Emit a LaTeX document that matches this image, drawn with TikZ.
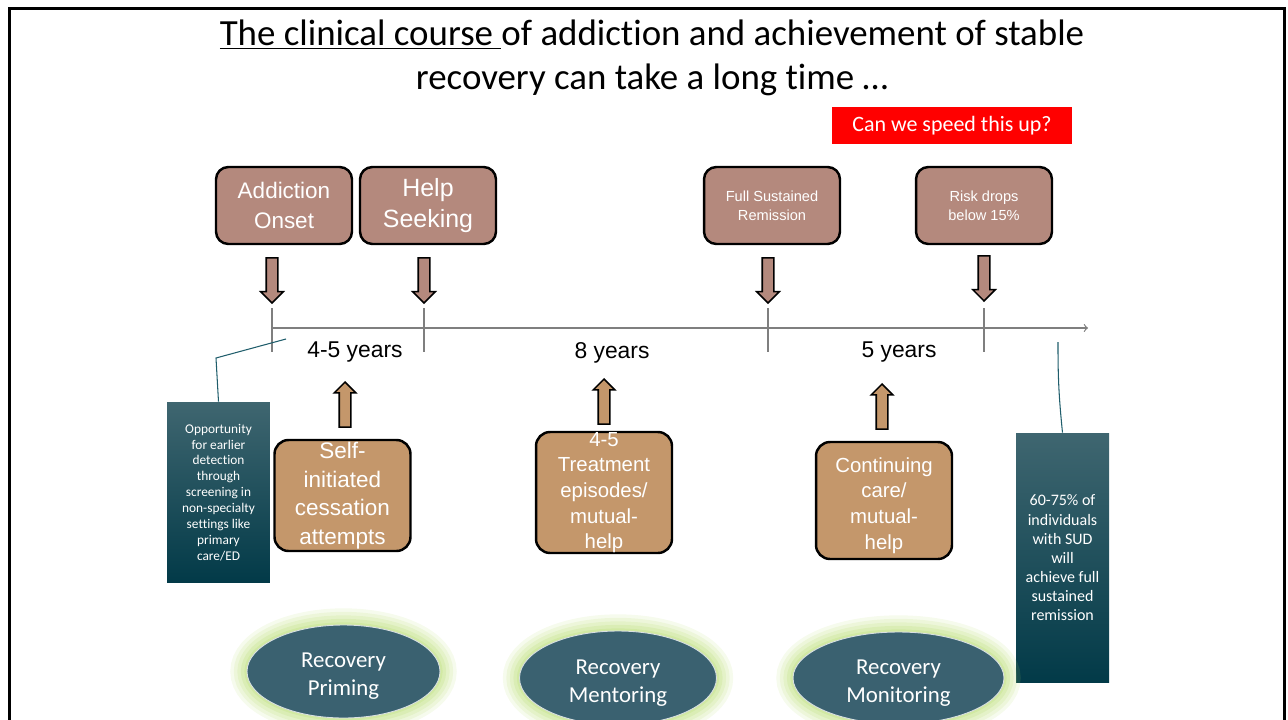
\documentclass[tikz,border=0pt]{standalone}
\usepackage{fontspec}
\setmainfont[Ligatures=NoCommon]{Carlito}
\newfontfamily\calfont[Ligatures=NoCommon]{Carlito}
\newfontfamily\arialfont{Liberation Sans}
\usetikzlibrary{shapes.geometric,shapes.arrows}
\definecolor{boxbrown}{HTML}{B4897D}
\definecolor{boxtan}{HTML}{C4976B}
\definecolor{tealtop}{HTML}{3F6670}
\definecolor{tealbot}{HTML}{023A48}
\definecolor{ovalteal}{HTML}{3A6170}
\definecolor{glowgreen}{HTML}{B5DB6A}
\definecolor{linkteal}{HTML}{1F5D6B}
\definecolor{axisgray}{HTML}{7F7F7F}

\begin{document}
\begin{tikzpicture}[x=0.02cm,y=-0.02cm]
        \tikzstyle{every node}=[font=\arialfont, text=white, inner sep=0pt]
        \tikzstyle{topbox}=[draw=black, line width=1.4pt, fill=boxbrown, rounded corners=7pt, minimum width=2.72cm, minimum height=1.54cm, align=center]
        \tikzstyle{tanbox}=[draw=black, line width=1.4pt, fill=boxtan, rounded corners=8pt, minimum width=2.72cm]
        \tikzstyle{boxtext}=[align=center, text=white]
        \tikzstyle{downarrow}=[single arrow, draw=black, line width=0.9pt, fill=boxbrown, shape border rotate=270, inner sep=0.1cm, single arrow head extend=0.11cm, minimum height=0.9cm]
        \tikzstyle{uparrow}=[single arrow, draw=black, line width=0.9pt, fill=boxtan, shape border rotate=90, inner sep=0.1cm, single arrow head extend=0.1cm, minimum height=0.9cm]
        \tikzstyle{yearlabel}=[text=black, font=\arialfont\fontsize{13}{15}\selectfont]
        \tikzstyle{tealbox}=[top color=tealtop, bottom color=tealbot, align=center]
        \tikzstyle{linkline}=[draw=linkteal, line width=0.6pt]
        \tikzstyle{ovaltext}=[align=center, text=white, yshift=-0.1cm, font=\calfont\fontsize{13}{15.9}\selectfont]
        \tikzstyle{oval}=[ellipse, fill=ovalteal, draw=white!80!ovalteal, line width=0.5pt,
            preaction={draw=glowgreen, line width=19pt, opacity=0.12},
            preaction={draw=glowgreen, line width=15pt, opacity=0.14},
            preaction={draw=glowgreen, line width=11pt, opacity=0.16},
            preaction={draw=glowgreen, line width=7pt, opacity=0.2},
            preaction={draw=glowgreen, line width=3pt, opacity=0.25}]

        \useasboundingbox (0,0) rectangle (1288,720);
        \clip (0,0) rectangle (1288,720);
        \draw [line width=1.7pt] (9.5,8.5) rectangle (1284.5,760);

        % title and question
        \node (title) at (652,58) [text=black, align=center, font=\calfont\fontsize{21}{25}\selectfont] {\underline{The clinical course\ }of addiction and achievement of stable\\recovery can take a long time …};
        \node (speedup) at (952,125.5) [fill=red, minimum width=4.8cm, minimum height=0.74cm, font=\calfont\fontsize{12.5}{14}\selectfont] {Can we speed this up?};

        % milestones
        \node (onset) at (284,205.5) [topbox, font=\arialfont\fontsize{12.8}{17}\selectfont] {Addiction\\Onset};
        \node (seeking) at (428,205.5) [topbox, font=\arialfont\fontsize{14.2}{17.6}\selectfont] {Help\\Seeking};
        \node (remission) at (772,205.5) [topbox, font=\arialfont\fontsize{8.3}{10.8}\selectfont] {Full Sustained\\Remission};
        \node (riskdrop) at (984,205.5) [topbox, font=\arialfont\fontsize{8.3}{10.8}\selectfont] {Risk drops\\below 15\%};

        \node (down1) at (272,277.5) [downarrow] {};
        \node (down2) at (424,277.5) [downarrow] {};
        \node (down3) at (768,277.5) [downarrow] {};
        \node (down4) at (984,275.5) [downarrow] {};

        % time line
        \coordinate (tstart) at (272,328);
        \coordinate (tend) at (1088,328);
        \draw [-to, axisgray, line width=0.7pt] (tstart) -- (tend);
        \foreach \x in {272,424,768,984}
            \draw [axisgray, line width=0.7pt] (\x,308) -- (\x,352);

        \node (years1) at (355,352) [yearlabel] {4-5 years};
        \node (years2) at (612,353) [yearlabel] {8 years};
        \node (years3) at (899,352) [yearlabel] {5 years};

        % supports
        \node (up1) at (345,407.5) [uparrow] {};
        \node (up2) at (604,404.5) [uparrow] {};
        \node (up3) at (882,409.5) [uparrow] {};

        \node (selfinit) at (342.5,495.5) [tanbox, minimum height=2.22cm, label={[boxtext, font=\arialfont\fontsize{12.8}{16.3}\selectfont]center:Self-\\initiated\\cessation\\attempts}] {};
        \node (treatment) at (604,492.5) [tanbox, minimum height=2.42cm, label={[boxtext, font=\arialfont\fontsize{11.6}{14.6}\selectfont]center:4-5\\Treatment\\episodes/\\mutual-\\help}] {};
        \node (continuing) at (884,500.5) [tanbox, minimum height=2.34cm, label={[boxtext, yshift=-0.1cm, font=\arialfont\fontsize{11.6}{14.6}\selectfont]center:Continuing\\care/\\mutual-\\help}] {};

        % side notes
        \node (screening) at (218.5,492.5) [tealbox, minimum width=2.06cm, minimum height=3.62cm, font=\calfont\fontsize{7.6}{9.07}\selectfont] {Opportunity\\for earlier\\detection\\through\\screening in\\non-specialty\\settings like\\primary\\care/ED};
        \node (sustained) at (1062.5,558) [tealbox, minimum width=1.86cm, minimum height=5cm, font=\calfont\fontsize{9.1}{10.9}\selectfont] {60-75\% of\\individuals\\with SUD\\will\\achieve full\\sustained\\remission};

        \coordinate (scrbend) at (216,358);
        \coordinate (scrend) at (286,339);
        \draw [linkline] (screening.north) -- (scrbend) -- (scrend);
        \coordinate (susend) at (1058,342);
        \draw [linkline] (sustained.north) to[bend left=3] (susend);

        % phases
        \node (priming) at (343.5,671.5) [oval, minimum width=3.86cm, minimum height=1.86cm, label={[ovaltext]center:Recovery\\Priming}] {};
        \node (mentoring) at (618,678) [oval, minimum width=3.94cm, minimum height=1.88cm, label={[ovaltext]center:Recovery\\Mentoring}] {};
        \node (monitoring) at (898.5,678) [oval, minimum width=4.22cm, minimum height=1.84cm, label={[ovaltext]center:Recovery\\Monitoring}] {};
\end{tikzpicture}
\end{document}
